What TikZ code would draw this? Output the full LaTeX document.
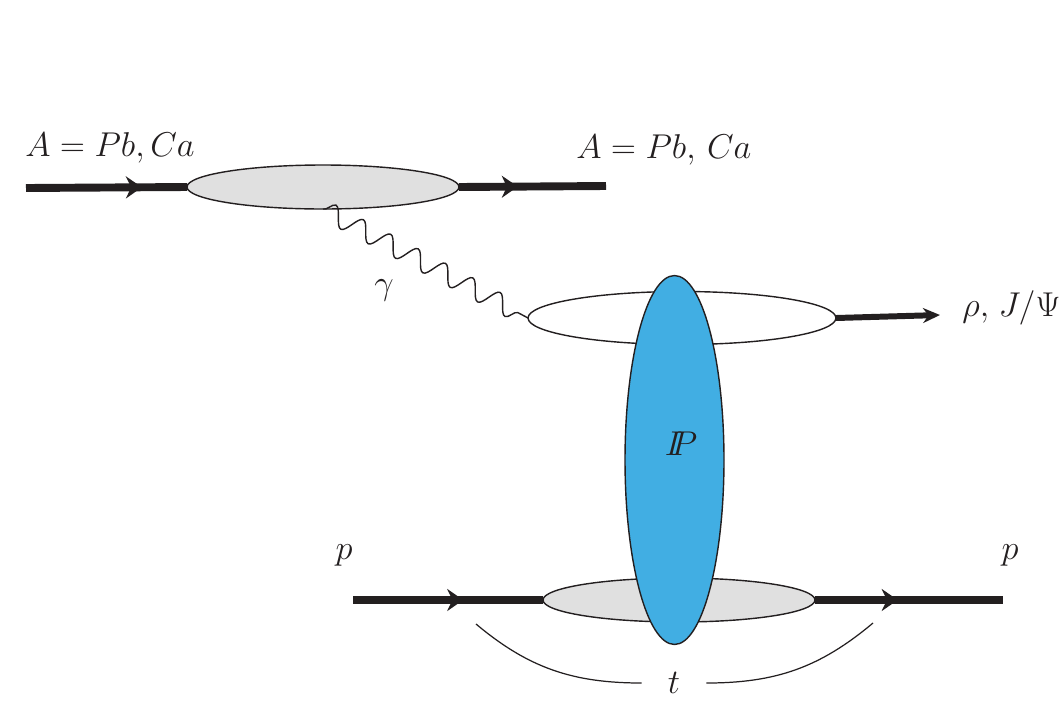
\documentclass[tikz,border=0pt]{standalone}
\usepackage{fix-cm}
\usetikzlibrary{shapes.geometric,arrows.meta,decorations.markings,decorations.pathmorphing}
\definecolor{pomblue}{RGB}{65,174,227}
\definecolor{blobgray}{RGB}{224,224,224}
\definecolor{ink}{RGB}{35,31,32}

\begin{document}
\begin{tikzpicture}[x=0.02cm, y=-0.02cm, color=ink,
  blob/.style = {ellipse, draw=ink, line width=0.8pt, inner sep=0pt, outer sep=0pt},
  beam/.style = {draw=ink, line width=4.5pt},
  midarrow/.style = {postaction={decorate}, decoration={markings,
     mark=at position #1 with {\arrow{Stealth[length=0.32cm,width=0.44cm]}}}},
  photon/.style = {draw=ink, line width=0.8pt, decorate,
     decoration={snake, segment length=0.62cm, amplitude=0.19cm}},
  lbl/.style = {font=\fontsize{19.6}{23}\selectfont, inner sep=0pt}
]

% Canvas in pixel units: 1064 x 714, y pointing down
\useasboundingbox (0,0) rectangle (1064,714);

% Blobs
\node [blob, fill=blobgray, minimum width=5.44cm, minimum height=0.88cm] (nucl) at (323,187) {};
\node [blob, fill=white, minimum width=6.16cm, minimum height=1.06cm] (meson) at (682,318) {};
\node [blob, fill=blobgray, minimum width=5.44cm, minimum height=0.88cm] (prot) at (679,600) {};
\node [blob, fill=pomblue, minimum width=1.98cm, minimum height=7.38cm] (pom) at (674.5,460) {};

% Free ends of the external lines
\coordinate (Ain) at (26,188);
\coordinate (Aout) at (606,186);
\coordinate (pin) at (353,600);
\coordinate (pout) at (1003,600);
\coordinate (Vend) at (940,315);
\coordinate (tL) at (476,624);
\coordinate (tR) at (873,623);

% Labels
\node [lbl, anchor=west] (Aleft) at (25,148) {$A=Pb,Ca$};
\node [lbl, anchor=west] (Aright) at (576,150) {$A=Pb,\,Ca$};
\node [lbl] (glab) at (384,290) {$\gamma$};
\node [lbl, anchor=base west] (Vlab) at (962,316) {$\rho,\mkern2mu J/\Psi$};
\node [lbl] (pleft) at (344,555) {$p$};
\node [lbl] (pright) at (1010,555) {$p$};
\node [lbl] (Plab) at (681,444) {$I\!\!P$};
\node [lbl, inner xsep=0.52cm] (tlab) at (674,683) {$t$};

% Beams
\draw [beam, midarrow=0.72] (Ain) -- (nucl.west);
\draw [beam, midarrow=0.40] (nucl.east) -- (Aout);
\draw [beam, midarrow=0.58] (pin) -- (prot.west);
\draw [beam, midarrow=0.44] (prot.east) -- (pout);

% Photon and vector meson
\draw [photon] (nucl.south) -- (meson.west);
\draw [line width=3.4pt, -{Stealth[length=0.34cm,width=0.3cm]}] (meson.east) -- (Vend);

% Momentum transfer
\draw [line width=0.7pt] (tL) to[out=-40,in=180] (tlab.west);
\draw [line width=0.7pt] (tlab.east) to[out=0,in=-140] (tR);

\end{tikzpicture}
\end{document}
